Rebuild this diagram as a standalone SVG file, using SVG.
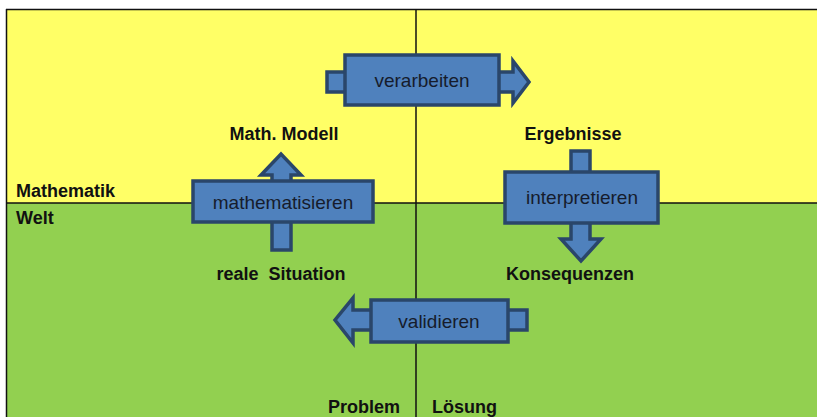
<svg xmlns="http://www.w3.org/2000/svg" width="817" height="417" viewBox="0 0 817 417">
  <style>
    .shape { fill: #4f81bd; stroke: #2a466a; stroke-width: 3.5; stroke-linejoin: miter; }
    .box-label { font-family: "Liberation Sans", Arial, sans-serif; font-size: 19px; fill: #161c2c; text-anchor: middle; }
    .label { font-family: "Liberation Sans", Arial, sans-serif; font-size: 18px; font-weight: bold; fill: #111; }
    .grid { stroke: #111; stroke-width: 1.5; fill: none; }
  </style>

  <!-- background quadrants -->
  <rect x="0" y="0" width="817" height="417" fill="#ffffff"/>
  <rect x="6" y="10" width="811" height="193" fill="#ffff66"/>
  <rect x="6" y="203" width="811" height="214" fill="#92d050"/>

  <!-- axes -->
  <g id="grid">
    <line class="grid" x1="6" y1="9.5" x2="817" y2="9.5" stroke-width="2"/>
    <line class="grid" x1="6.5" y1="9" x2="6.5" y2="417"/>
    <line class="grid" x1="416" y1="9" x2="416" y2="417"/>
    <line class="grid" x1="6" y1="203" x2="817" y2="203"/>
  </g>

  <!-- region labels -->
  <g id="regions">
    <text class="label" x="16" y="197">Mathematik</text>
    <text class="label" x="16" y="224">Welt</text>
    <text class="label" x="400" y="413" text-anchor="end" font-size="17">Problem</text>
    <text class="label" x="432" y="413" font-size="17">Lösung</text>
  </g>

  <!-- state labels -->
  <g id="math-modell"><text class="label" x="284" y="140" text-anchor="middle">Math. Modell</text></g>
  <g id="ergebnisse"><text class="label" x="573" y="140" text-anchor="middle">Ergebnisse</text></g>
  <g id="reale-situation"><text class="label" x="281" y="280" text-anchor="middle" xml:space="preserve">reale  Situation</text></g>
  <g id="konsequenzen"><text class="label" x="570" y="280" text-anchor="middle">Konsequenzen</text></g>

  <!-- process arrows -->
  <g id="connectors">
    <!-- verarbeiten: left to right -->
    <g id="verarbeiten">
      <rect class="shape" x="327" y="72" width="20" height="20"/>
      <polygon class="shape" points="498,72 513,72 513,61 529,82 513,103 513,92 498,92"/>
      <rect class="shape" x="345" y="55" width="154" height="50"/>
      <text class="box-label" x="422" y="87">verarbeiten</text>
    </g>

    <!-- mathematisieren: bottom to top -->
    <g id="mathematisieren">
      <rect class="shape" x="272" y="220" width="19" height="30"/>
      <polygon class="shape" points="272,182 272,175 261,175 281,154 301,175 291,175 291,182"/>
      <rect class="shape" x="193" y="181" width="180" height="41"/>
      <text class="box-label" x="283" y="209">mathematisieren</text>
    </g>

    <!-- interpretieren: top to bottom -->
    <g id="interpretieren">
      <rect class="shape" x="571" y="151" width="19" height="22"/>
      <polygon class="shape" points="571,222 571,239 561,239 581,261 601,239 590,239 590,222"/>
      <rect class="shape" x="505" y="172" width="153" height="51"/>
      <text class="box-label" x="582" y="204">interpretieren</text>
    </g>

    <!-- validieren: right to left -->
    <g id="validieren">
      <rect class="shape" x="506" y="310" width="21" height="20"/>
      <polygon class="shape" points="372,310 353,310 353,298 335,320 353,343 353,330 372,330"/>
      <rect class="shape" x="371" y="300" width="137" height="42"/>
      <text class="box-label" x="439" y="328">validieren</text>
    </g>
  </g>
</svg>
